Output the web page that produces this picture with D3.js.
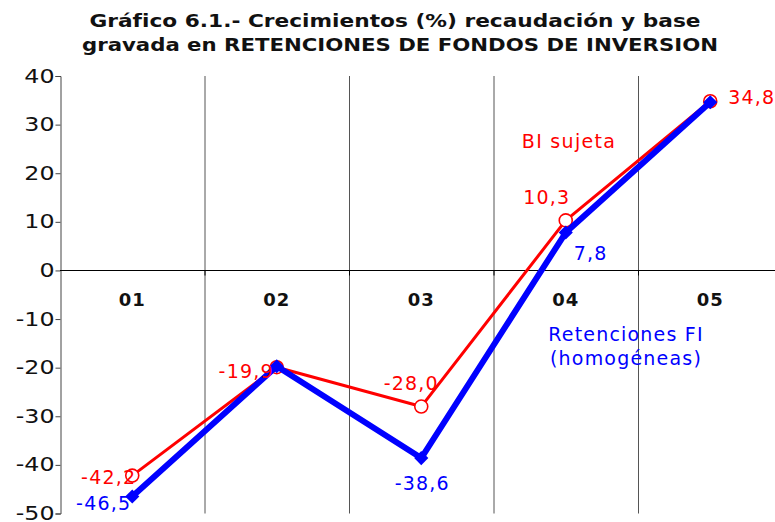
<!DOCTYPE html>
<html lang="es">
<head>
<meta charset="utf-8">
<script src="https://cdn.jsdelivr.net/npm/d3@7"></script>
<style>
    html, body { margin: 0; padding: 0; background: #fff; }
    svg { display: block; font-family: "DejaVu Sans", Verdana, sans-serif; }
</style>
</head>
<body>
<div id="chart"></div>
<script>
// Datos del gráfico
const categories = ['01', '02', '03', '04', '05'];
const biSujeta = [-42.2, -19.9, -28.0, 10.3, 34.8];       // BI sujeta
const retenciones = [-46.5, -19.7, -38.6, 7.8, 34.6];     // Retenciones FI (homogéneas)
const yTicks = [40, 30, 20, 10, 0, -10, -20, -30, -40, -50];
const titleLines = [
    'Gráfico 6.1.- Crecimientos (%) recaudación y base',
    'gravada en RETENCIONES DE FONDOS DE INVERSION'
];

const width = 775, height = 522;
const plotLeft = 60, plotRight = 782.5, plotTop = 76, plotBottom = 513.5;

const svg = d3.select('#chart').append('svg')
    .attr('width', width)
    .attr('height', height);

const x = d3.scaleBand().domain(categories).range([plotLeft, plotRight]);
const y = d3.scaleLinear().domain([-50, 40]).range([plotBottom, plotTop]);
const cx = d => x(d) + x.bandwidth() / 2;

// Título
svg.append('g').selectAll('text')
    .data(titleLines)
    .enter().append('text')
    .attr('x', (d, i) => i === 0 ? 395 : 400)
    .attr('y', (d, i) => 27 + i * 24)
    .attr('text-anchor', 'middle')
    .attr('font-size', 17.5)
    .attr('font-weight', 'bold')
    .attr('fill', '#111')
    .attr('textLength', (d, i) => i === 0 ? 611 : 636)
    .attr('lengthAdjust', 'spacingAndGlyphs')
    .text(d => d);

// Líneas verticales entre categorías
svg.append('g').selectAll('line')
    .data(categories.slice(1))
    .enter().append('line')
    .attr('x1', d => x(d) + 0.5)
    .attr('x2', d => x(d) + 0.5)
    .attr('y1', plotTop)
    .attr('y2', plotBottom)
    .attr('stroke', '#555')
    .attr('stroke-width', 1);

// Eje Y (etiquetas algo ensanchadas como en el original)
const yAxis = svg.append('g')
    .attr('transform', `translate(${plotLeft + 0.5},0)`)
    .call(d3.axisLeft(y).tickValues(yTicks).tickSize(5).tickFormat(d => String(d)));
yAxis.select('.domain').attr('stroke', '#444');
yAxis.selectAll('.tick line').attr('stroke', '#444');
yAxis.selectAll('.tick text')
    .attr('x', -6 / 1.25)
    .attr('transform', 'scale(1.25,1)')
    .attr('font-size', 19)
    .attr('fill', '#111')
    .style('font-family', '"DejaVu Sans", Verdana, sans-serif');

// Línea del cero con marcas hacia abajo
const zeroY = Math.round(y(0)) + 0.5;
svg.append('line')
    .attr('x1', plotLeft).attr('x2', width)
    .attr('y1', zeroY).attr('y2', zeroY)
    .attr('stroke', '#000');
svg.append('g').selectAll('line')
    .data(categories.slice(1))
    .enter().append('line')
    .attr('x1', d => x(d) + 0.5)
    .attr('x2', d => x(d) + 0.5)
    .attr('y1', zeroY)
    .attr('y2', zeroY + 5)
    .attr('stroke', '#000');

// Etiquetas de categoría
svg.append('g').selectAll('text')
    .data(categories)
    .enter().append('text')
    .attr('x', d => cx(d))
    .attr('y', 306)
    .attr('text-anchor', 'middle')
    .attr('font-size', 18)
    .attr('font-weight', 'bold')
    .attr('letter-spacing', 1)
    .attr('fill', '#111')
    .text(d => d);

const line = d3.line()
    .x((d, i) => cx(categories[i]))
    .y(d => y(d));

// Serie BI sujeta (roja)
svg.append('path')
    .datum(biSujeta)
    .attr('d', line)
    .attr('fill', 'none')
    .attr('stroke', '#ff0000')
    .attr('stroke-width', 3)
    .attr('stroke-linejoin', 'round');

svg.append('g').selectAll('circle')
    .data(biSujeta)
    .enter().append('circle')
    .attr('cx', (d, i) => cx(categories[i]))
    .attr('cy', d => y(d))
    .attr('r', 6.5)
    .attr('fill', '#fff')
    .attr('stroke', '#ff0000')
    .attr('stroke-width', 1.6);

// Serie Retenciones (azul)
svg.append('path')
    .datum(retenciones)
    .attr('d', line)
    .attr('fill', 'none')
    .attr('stroke', '#0000ff')
    .attr('stroke-width', 6)
    .attr('stroke-linejoin', 'round');

svg.append('g').selectAll('path')
    .data(retenciones)
    .enter().append('path')
    .attr('d', d3.symbol().type(d3.symbolSquare).size(100))
    .attr('transform', (d, i) => `translate(${cx(categories[i])},${y(d)}) rotate(45)`)
    .attr('fill', '#0000ff');

// Etiquetas de valores: [dx, dy, anchor]
const fmt = v => v.toFixed(1).replace('.', ',');
const redLabelPos = [[4, 8, 'end'], [-3, 11, 'end'], [-10, -17, 'middle'], [-19, -16, 'middle'], [18, 3, 'start']];
const blueLabelPos = [[-1, 14, 'end'], null, [1, 32, 'middle'], [8, 27, 'start'], null];

function drawLabels(values, pos, color) {
    svg.append('g').selectAll('text')
        .data(values.map((v, i) => ({ v, i, p: pos[i] })).filter(d => d.p))
        .enter().append('text')
        .attr('x', d => cx(categories[d.i]) + d.p[0])
        .attr('y', d => y(d.v) + d.p[1])
        .attr('text-anchor', d => d.p[2])
        .attr('font-size', 19)
        .attr('letter-spacing', 1.2)
        .attr('fill', color)
        .text(d => fmt(d.v));
}
drawLabels(biSujeta, redLabelPos, '#ff0000');
drawLabels(retenciones, blueLabelPos, '#0000ff');

// Nombres de las series
svg.append('text')
    .attr('x', 569).attr('y', 148)
    .attr('text-anchor', 'middle')
    .attr('font-size', 19)
    .attr('letter-spacing', 1.3)
    .attr('fill', '#ff0000')
    .text('BI sujeta');

svg.append('g').selectAll('text')
    .data(['Retenciones FI', '(homogéneas)'])
    .enter().append('text')
    .attr('x', 626)
    .attr('y', (d, i) => 341 + i * 24)
    .attr('text-anchor', 'middle')
    .attr('font-size', 19)
    .attr('letter-spacing', 1.2)
    .attr('fill', '#0000ff')
    .text(d => d);
</script>
</body>
</html>
